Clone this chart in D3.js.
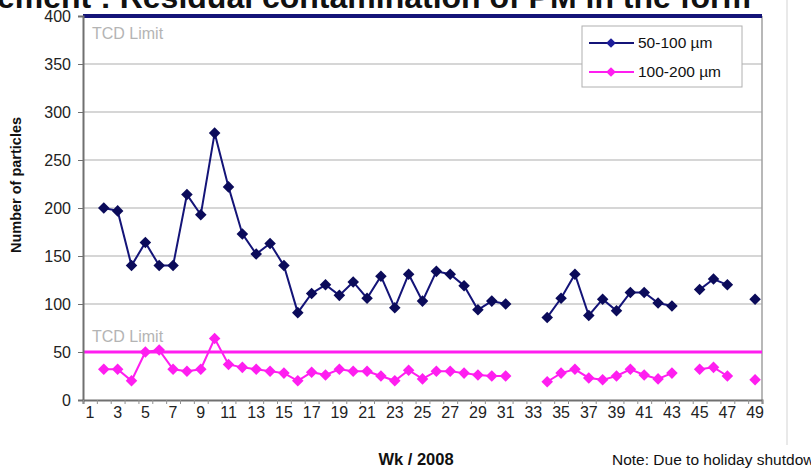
<!DOCTYPE html>
<html>
<head>
<meta charset="utf-8">
<script src="https://cdn.jsdelivr.net/npm/d3@7"></script>
<style>
  body { margin: 0; background: #fff; }
  svg { font-family: "Liberation Sans", Arial, sans-serif; display: block; }
</style>
</head>
<body>
<svg width="811" height="469"></svg>
<script>
// weeks on the category axis
var weeks = d3.range(1, 50);

// 50-100 um counts, null = no sample that week
var small = [null, 200, 197, 140, 164, 140, 140, 214, 193, 278,
             222, 173, 152, 163, 140, 91, 111, 120, 109, 123,
             106, 129, 96, 131, 103, 134, 131, 119, 94, 103,
             100, null, null, 86, 106, 131, 88, 105, 93, 112,
             112, 101, 98, null, 115, 126, 120, null, 105];

// 100-200 um counts
var large = [null, 32, 32, 20, 50, 52, 32, 30, 32, 64,
             37, 34, 32, 30, 28, 20, 29, 26, 32, 30,
             30, 25, 20, 31, 22, 30, 30, 28, 26, 25,
             25, null, null, 19, 28, 32, 23, 21, 25, 32,
             26, 22, 28, null, 32, 34, 25, null, 21];

var limitSmall = 400, limitLarge = 50;
var yTicks = d3.range(0, 401, 50);
var xLabels = weeks.filter(function (d) { return d % 2 == 1; });

var svg = d3.select("svg");
var plotLeft = 83, plotRight = 762, plotTop = 16, plotBottom = 400;

var x = d3.scaleBand().domain(weeks).range([plotLeft, plotRight]);
var xEdge = d3.scaleLinear().domain([0.5, 49.5]).range([plotLeft, plotRight]);
var y = d3.scaleLinear().domain([0, 400]).range([plotBottom, plotTop]);

var navy = "#141478", pink = "#ff1ef0";
var font = "Liberation Sans, Arial, sans-serif";

// title, mostly cut off by the top edge
svg.append("text")
    .attr("x", -3).attr("y", 8)
    .attr("font-size", 32).attr("font-weight", "bold").attr("fill", "#111")
    .text("ement : Residual contamination of  PM in the form");

// gridlines
svg.append("g").selectAll("line")
    .data(yTicks.filter(function (d) { return d > 50 && d < 400; }))
    .enter().append("line")
    .attr("x1", plotLeft).attr("x2", plotRight)
    .attr("y1", function (d) { return y(d); })
    .attr("y2", function (d) { return y(d); })
    .attr("stroke", "#c8c8c8").attr("stroke-width", 1.5);

// right border of plot
svg.append("line")
    .attr("x1", plotRight).attr("x2", plotRight).attr("y1", plotTop).attr("y2", plotBottom)
    .attr("stroke", "#a0a0a0").attr("stroke-width", 1.5);
svg.append("line")
    .attr("x1", 787).attr("x2", 787).attr("y1", 0).attr("y2", 445)
    .attr("stroke", "#e2e2e2").attr("stroke-width", 1.5);

// limit lines
svg.append("line")
    .attr("x1", plotLeft).attr("x2", plotRight)
    .attr("y1", y(limitLarge)).attr("y2", y(limitLarge))
    .attr("stroke", pink).attr("stroke-width", 3);
svg.append("line")
    .attr("x1", plotLeft).attr("x2", plotRight)
    .attr("y1", y(limitSmall)).attr("y2", y(limitSmall))
    .attr("stroke", navy).attr("stroke-width", 4);

svg.selectAll(".tcd")
    .data([limitSmall, limitLarge])
    .enter().append("text")
    .attr("x", plotLeft + 9)
    .attr("y", function (d) { return y(d) + (d == limitSmall ? 23 : -10); })
    .attr("font-size", 16).attr("fill", "#b4b4b4")
    .text("TCD Limit");

// y axis
var yAxis = svg.append("g")
    .attr("transform", "translate(" + plotLeft + ",0)")
    .call(d3.axisLeft(y).tickValues(yTicks).tickSize(5).tickPadding(7));
yAxis.select(".domain").attr("stroke", "#707070").attr("stroke-width", 2);
yAxis.selectAll(".tick line").attr("stroke", "#707070");
yAxis.selectAll("text").attr("font-size", 16).attr("fill", "#222")
    .attr("font-family", font);

// x axis: tick marks on category edges, labels every other week
var xTicks = svg.append("g")
    .attr("transform", "translate(0," + plotBottom + ")")
    .call(d3.axisBottom(xEdge).tickValues(d3.range(0.5, 50, 1)).tickSize(4)
        .tickFormat(function () { return ""; }));
xTicks.select(".domain").attr("stroke", "#707070").attr("stroke-width", 2);
xTicks.selectAll(".tick line").attr("stroke", "#909090");

var xAxis = svg.append("g")
    .attr("transform", "translate(0," + plotBottom + ")")
    .call(d3.axisBottom(x).tickValues(xLabels).tickSize(0).tickPadding(7));
xAxis.select(".domain").remove();
xAxis.selectAll("text").attr("font-size", 16).attr("fill", "#222")
    .attr("font-family", font);

// axis titles
svg.append("text")
    .attr("transform", "translate(21,185) rotate(-90)")
    .attr("text-anchor", "middle")
    .attr("font-size", 14.5).attr("font-weight", "bold").attr("fill", "#111")
    .text("Number of particles");
svg.append("text")
    .attr("x", 416).attr("y", 465).attr("text-anchor", "middle")
    .attr("font-size", 16.5).attr("font-weight", "bold").attr("fill", "#111")
    .text("Wk / 2008");
svg.append("text")
    .attr("x", 612).attr("y", 465)
    .attr("font-size", 15.5).attr("fill", "#111")
    .text("Note: Due to holiday shutdown no samples were taken");

// series
var diamond = d3.symbol().type(d3.symbolDiamond2).size(85);

function drawSeries(values, lineColor, markColor) {
    var pts = values.map(function (v, i) { return { w: weeks[i], v: v }; });
    var line = d3.line()
        .defined(function (d) { return d.v != null; })
        .x(function (d) { return x(d.w) + x.bandwidth() / 2; })
        .y(function (d) { return y(d.v); });
    svg.append("path")
        .datum(pts)
        .attr("d", line)
        .attr("fill", "none")
        .attr("stroke", lineColor)
        .attr("stroke-width", 2);
    svg.append("g").selectAll("path")
        .data(pts.filter(function (d) { return d.v != null; }))
        .enter().append("path")
        .attr("d", diamond)
        .attr("transform", function (d) {
            return "translate(" + (x(d.w) + x.bandwidth() / 2) + "," + y(d.v) + ")";
        })
        .attr("fill", markColor);
}

drawSeries(large, pink, pink);
drawSeries(small, navy, "#0b0b5a");

// legend
var legend = svg.append("g").attr("transform", "translate(582,26)");
legend.append("rect")
    .attr("width", 160).attr("height", 61)
    .attr("fill", "#fff").attr("stroke", "#b0b0b0");
var items = [
    { name: "50-100 µm", line: navy, mark: "#1e1e9a" },
    { name: "100-200 µm", line: pink, mark: pink }
];
var row = legend.selectAll(".row")
    .data(items)
    .enter().append("g")
    .attr("transform", function (d, i) { return "translate(0," + (17 + i * 29) + ")"; });
row.append("line")
    .attr("x1", 7).attr("x2", 52)
    .attr("stroke", function (d) { return d.line; }).attr("stroke-width", 2);
row.append("path")
    .attr("d", d3.symbol().type(d3.symbolDiamond2).size(60))
    .attr("transform", "translate(29,0)")
    .attr("fill", function (d) { return d.mark; });
row.append("text")
    .attr("x", 56).attr("y", 5)
    .attr("font-size", 15.5).attr("fill", "#111")
    .text(function (d) { return d.name; });
</script>
</body>
</html>
